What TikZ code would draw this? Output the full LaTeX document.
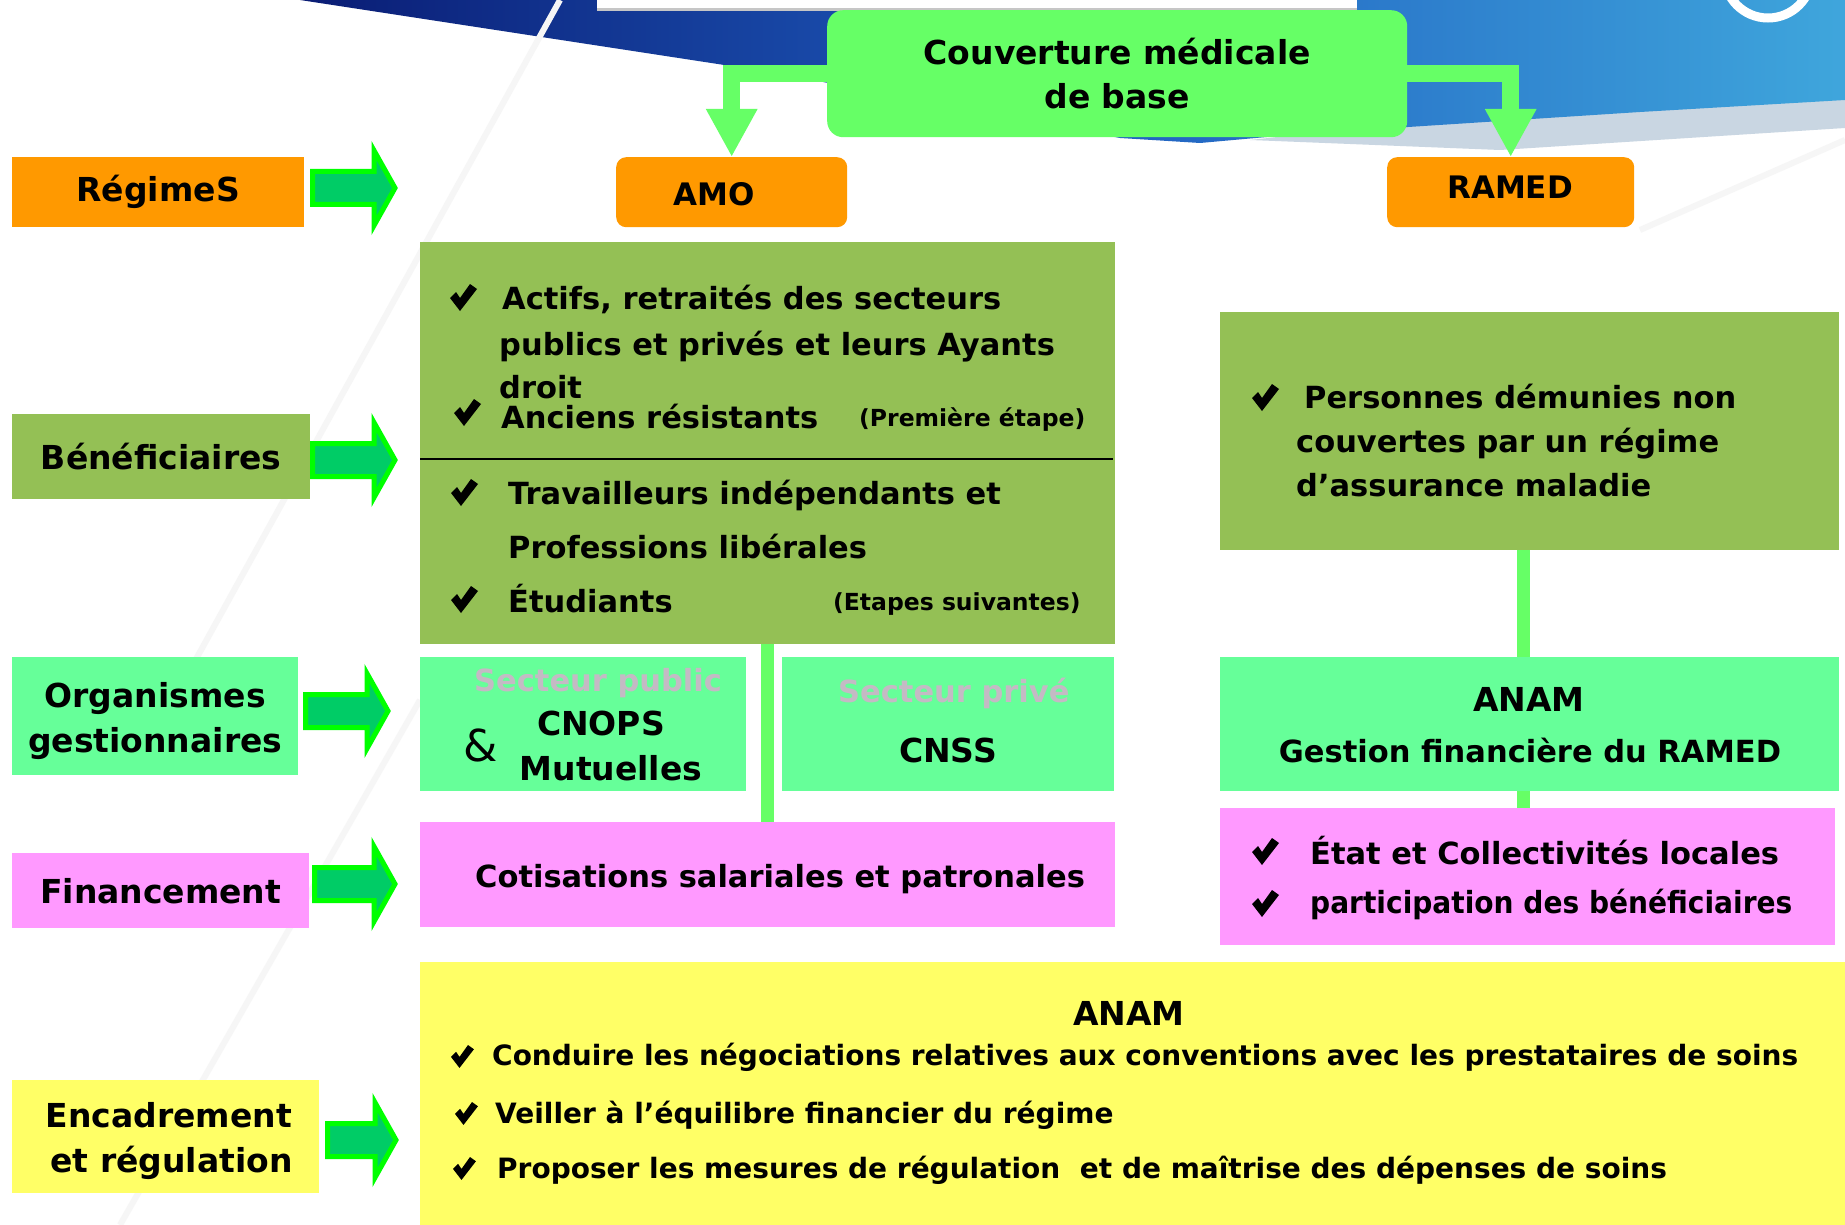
\documentclass[tikz,border=0pt]{standalone}
\usepackage{fontspec}
\setmainfont{DejaVu Sans}
\usetikzlibrary{positioning,arrows.meta}

\definecolor{regimeorange}{HTML}{FF9900}
\definecolor{topgreen}{HTML}{66FF66}
\definecolor{benefgreen}{HTML}{94C055}
\definecolor{organgreen}{HTML}{66FF99}
\definecolor{financepink}{HTML}{FF99FF}
\definecolor{encadyellow}{HTML}{FFFF66}
\definecolor{arrowfill}{HTML}{00CC66}
\definecolor{arrowedge}{HTML}{00FF00}
\definecolor{ghost}{HTML}{C4BAC4}
\definecolor{banner1}{HTML}{0A1C74}
\definecolor{banner2}{HTML}{1F5EC0}
\definecolor{banner3}{HTML}{3FA6DC}
\definecolor{bannerlow}{HTML}{C9D6E2}

\begin{document}
\begin{tikzpicture}[x=1pt, y=-1pt,
  panel/.style={rectangle, inner sep=0pt, anchor=north west},
  side/.style={rectangle, inner sep=0pt, anchor=north west, align=center,
    font=\fontsize{33}{45}\selectfont\bfseries},
  sidetext/.style={inner sep=0pt, align=center,
    font=\fontsize{33}{45}\selectfont\bfseries},
  txt/.style={anchor=west, inner sep=0pt,
    font=\fontsize{30.5}{36}\selectfont\bfseries},
  small/.style={anchor=west, inner sep=0pt,
    font=\fontsize{23.5}{28}\selectfont\bfseries},
  item/.style={anchor=west, inner sep=0pt,
    font=\fontsize{28}{34}\selectfont\bfseries},
  head/.style={inner sep=0pt, font=\fontsize{33}{40}\selectfont\bfseries},
  link/.style={line width=13, topgreen},
  streak/.style={gray!7, line width=6},
  toparr/.style={line width=17, topgreen, line join=miter,
    -{Triangle[length=48pt, width=48pt]}},
  chk/.pic={\fill (0,14) -- (6,8) -- (10,14) -- (20,0) -- (27,5)
    -- (10,27) -- cycle;},
  pics/fatarrow/.style={code={
    \draw[arrowedge, fill=arrowfill, line width=5, line join=miter]
      (2.5,-16.5) -- (#1-24,-16.5) -- (#1-24,-37.5) -- (#1-3,0)
      -- (#1-24,37.5) -- (#1-24,16.5) -- (2.5,16.5) -- cycle;
  }}
]

% Background
\fill[white] (0,0) rectangle (1845,1225);
\useasboundingbox (0,0) rectangle (1845,1225);
\fill[bannerlow] (1250,140) -- (1845,75) -- (1845,128) -- (1500,150) -- cycle;
\shade[left color=banner1, right color=banner3, middle color=banner2]
  (300,0) -- (1845,0) -- (1845,100) -- (1640,112) -- (1300,134)
  -- (1200,143) -- (1120,138) -- (770,72) -- cycle;
\fill[white] (597,0) rectangle (1357,8);
\fill[gray!45] (597,8) rectangle (1357,11);
\begin{scope}
  \clip (0,0) rectangle (1845,1225);
  \draw[white, line width=9] (1768,-26) circle (44);
\end{scope}
\draw[streak] (190,670) -- (560,0);
\draw[streak] (120,1225) -- (420,700);
\draw[streak] (1845,140) -- (1640,230);

% Top box and regimes
\node[panel, fill=topgreen, rounded corners=16, minimum width=580,
  minimum height=127, align=center,
  font=\fontsize{33}{44}\selectfont\bfseries] (cmb) at (827,10)
  {Couverture médicale\\de base};
\node[panel, fill=regimeorange, rounded corners=10, minimum width=231,
  minimum height=70] (amo) at (616,157) {};
\node[head, font=\fontsize{31}{36}\selectfont\bfseries] at (714,194) {AMO};
\node[panel, fill=regimeorange, rounded corners=10, minimum width=247,
  minimum height=70] (ramed) at (1387,157) {};
\node[head, font=\fontsize{31}{36}\selectfont\bfseries] at (1510,187) {RAMED};

\draw[toparr] (cmb.west) -| (amo.north);
\draw[toparr] (cmb.east) -| (ramed.north);

% Left column
\node[side, fill=regimeorange, minimum width=292, minimum height=70]
  (regimes) at (12,157) {RégimeS};
\node[side, fill=benefgreen, minimum width=298, minimum height=85]
  (benefL) at (12,414) {Bénéficiaires};
\node[side, fill=organgreen, minimum width=286, minimum height=118]
  (organL) at (12,657) {};
\node[sidetext] at ([yshift=-5pt]organL.center) {Organismes\\gestionnaires};
\node[side, fill=financepink, minimum width=297, minimum height=75]
  (financeL) at (12,853) {Financement};
\node[side, fill=encadyellow, minimum width=307, minimum height=113]
  (encadL) at (12,1080) {};
\node[sidetext] at ([yshift=-4pt, xshift=3pt]encadL.center)
  {Encadrement\\\hspace*{6pt}et régulation};

\pic at (310,188) {fatarrow=88};
\pic at (310,460) {fatarrow=88};
\pic at (303,711) {fatarrow=88};
\pic at (312,884) {fatarrow=86};
\pic at (325,1140) {fatarrow=74};

% AMO column
\node[panel, fill=benefgreen, minimum width=695, minimum height=402]
  (benef) at (420,242) {};
\node[panel, fill=organgreen, minimum width=326, minimum height=134]
  (cnops) at (420,657) {};
\node[panel, fill=organgreen, minimum width=332, minimum height=134]
  (cnss) at (782,657) {};
\node[panel, fill=financepink, minimum width=695, minimum height=105]
  (cotis) at (420,822) {};
\draw[link] (benef.south) -- (cotis.north);
\draw[line width=2] (420,459) -- (1113,459);

\pic at (450,284) {chk};
\node[txt] at (502,299) {Actifs, retraités des secteurs};
\node[txt] at (499,347) {publics et privés et leurs Ayants};
\node[txt] at (499,387) {droit};
\pic at (454,399) {chk};
\node[txt] at (501,417) {Anciens résistants};
\node[small] at (859,420) {(Première étape)};
\pic at (451,479) {chk};
\node[txt] at (508,495) {Travailleurs indépendants et};
\node[txt] at (508,547) {Professions libérales};
\pic at (451,586) {chk};
\node[txt] at (508,599) {Étudiants};
\node[small] at (833,604) {(Etapes suivantes)};

\node[txt, text=ghost] at (474,683) {Secteur public};
\node[inner sep=0pt, font=\fontsize{44}{48}\selectfont] at (481,745) {\&};
\node[head] at (601,723) {CNOPS};
\node[head] at (611,768) {Mutuelles};
\node[txt, text=ghost] at (838,693) {Secteur privé};
\node[head] at (948,750) {CNSS};
\node[txt] at (475,879) {Cotisations salariales et patronales};

% RAMED column
\node[panel, fill=benefgreen, minimum width=619, minimum height=238]
  (pers) at (1220,312) {};
\node[panel, fill=organgreen, minimum width=619, minimum height=134]
  (anamR) at (1220,657) {};
\node[panel, fill=financepink, minimum width=615, minimum height=137]
  (partR) at (1220,808) {};
\draw[link] ([xshift=-6.5pt]pers.south) -- ([xshift=-6.5pt]anamR.north);
\draw[link] ([xshift=-6.5pt]anamR.south) -- ([xshift=-6.5pt]anamR.south |- partR.north);

\pic at (1252,384) {chk};
\node[txt] at (1304,397) {Personnes démunies non};
\node[txt] at (1296,444) {couvertes par un régime};
\node[txt] at (1296,485) {d’assurance maladie};
\node[head] at (1529,699) {ANAM};
\node[txt, anchor=center] at (1530,751) {Gestion financière du RAMED};
\pic at (1252,838) {chk};
\node[txt] at (1310,851) {État et Collectivités locales};
\pic at (1252,890) {chk};
\node[txt] at (1310,904) {\scalebox{0.92}[1]{participation des bénéficiaires}};

% Regulation
\node[panel, fill=encadyellow, minimum width=1425, minimum height=263]
  (anamY) at (420,962) {};
\node[head] at (1129,1013) {ANAM};
\pic[scale=0.85] at (451,1045) {chk};
\node[item] at (492,1057) {Conduire les négociations relatives aux conventions avec les prestataires de soins};
\pic[scale=0.85] at (455,1102) {chk};
\node[item] at (495,1115) {Veiller à l’équilibre financier du régime};
\pic[scale=0.85] at (453,1157) {chk};
\node[item] at (497,1170) {Proposer les mesures de régulation\ \ et de maîtrise des dépenses de soins};

\end{tikzpicture}
\end{document}
